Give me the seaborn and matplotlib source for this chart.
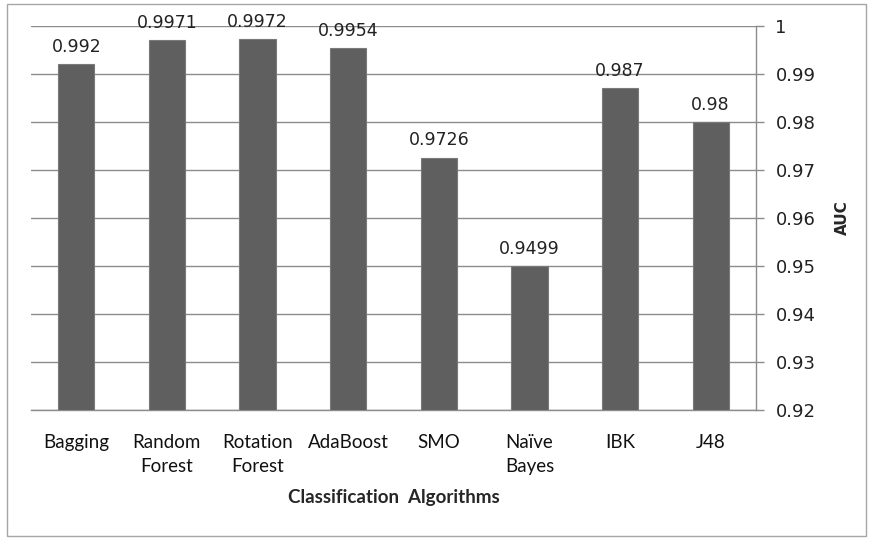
import matplotlib
matplotlib.use("Agg")
import matplotlib.pyplot as plt
import seaborn as sns
import pandas as pd
from matplotlib.patches import Rectangle

categories = ["Bagging", "Random\nForest", "Rotation\nForest", "AdaBoost", "SMO", "Naïve\nBayes", "IBK", "J48"]
auc_values = [0.992, 0.9971, 0.9972, 0.9954, 0.9726, 0.9499, 0.987, 0.98]
value_labels = ["0.992", "0.9971", "0.9972", "0.9954", "0.9726", "0.9499", "0.987", "0.98"]
yticks = [0.92, 0.93, 0.94, 0.95, 0.96, 0.97, 0.98, 0.99, 1.0]
ytick_labels = ["0.92", "0.93", "0.94", "0.95", "0.96", "0.97", "0.98", "0.99", "1"]

sns.set_style("white")
df = pd.DataFrame({"alg": categories, "auc": auc_values})

fig = plt.figure(figsize=(8.69, 5.39), dpi=100)
ax = fig.add_axes([31/869, 1-410/539, (756-31)/869, (410-26)/539])

sns.barplot(data=df, x="alg", y="auc", color="#5f5f5f", width=0.4, ax=ax,
            saturation=1, edgecolor="#7a7a7a", linewidth=0.8, zorder=3)

ax.set_ylim(0.92, 1.0)
ax.set_xlim(-0.5, len(categories) - 0.5)
ax.yaxis.tick_right()
ax.yaxis.set_label_position("right")
ax.set_yticks(yticks)
ax.set_yticklabels(ytick_labels, fontsize=13, family="DejaVu Sans", color="#222222")
ax.tick_params(axis="y", direction="out", length=6, width=1, color="#8c8c8c", pad=8)
for lbl in ax.get_yticklabels():
    lbl.set_horizontalalignment("left")
ax.yaxis.grid(True, color="#8c8c8c", linewidth=1, zorder=0)
ax.set_axisbelow(True)

ax.set_xticks(range(len(categories)))
ax.set_xticklabels(categories, fontsize=13.5, family="Lato", color="#111111", linespacing=1.55, va="top")
ax.tick_params(axis="x", length=0, pad=17)
ax.set_xticks([i - 0.5 for i in range(len(categories) + 1)], minor=True)
ax.tick_params(axis="x", which="minor", length=6, width=1, color="#8c8c8c", direction="out")

for s in ["top", "left"]:
    ax.spines[s].set_visible(False)
ax.spines["right"].set_color("#8c8c8c")
ax.spines["bottom"].set_color("#8c8c8c")
ax.spines["right"].set_linewidth(1)
ax.spines["bottom"].set_linewidth(1)

for i, (v, t) in enumerate(zip(auc_values, value_labels)):
    ax.annotate(t, (i, v), xytext=(0, 6), textcoords="offset points",
                ha="center", va="bottom", fontsize=12.5, family="DejaVu Sans", color="#222222")

ax.set_xlabel("Classification  Algorithms", fontsize=13.5, family="Lato", fontweight="bold", labelpad=10)
ax.set_ylabel("AUC", fontsize=11, family="DejaVu Sans", fontweight="bold", labelpad=14)

fig.patches.append(Rectangle((7/869, 1-536/539), (866-7)/869, (536-4)/539, transform=fig.transFigure,
                             fill=False, edgecolor="#a6a6a6", linewidth=1))

fig.savefig("out.png", dpi=100)
